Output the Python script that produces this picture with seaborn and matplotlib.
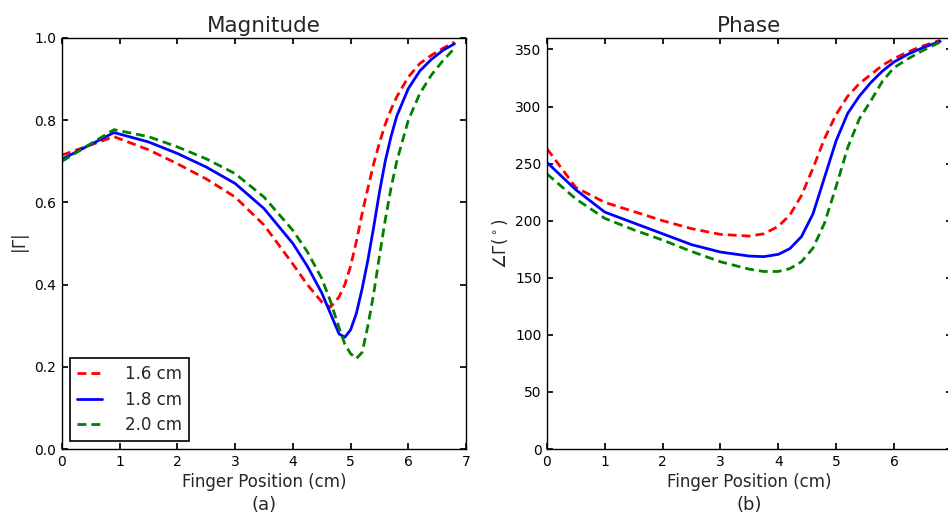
import matplotlib
matplotlib.use('Agg')
import matplotlib.pyplot as plt
import seaborn as sns
import pandas as pd

# magnitude |Gamma| vs finger position (cm)
mag_x = [0, 0.9, 1.5, 2.0, 2.5, 3.0, 3.5, 4.0, 4.25, 4.5, 4.65, 4.8, 4.9, 5.0,
         5.1, 5.2, 5.3, 5.4, 5.5, 5.6, 5.7, 5.8, 6.0, 6.2, 6.4, 6.6, 6.8]
mag_16 = [0.715, 0.76, 0.728, 0.694, 0.657, 0.613, 0.545, 0.45, 0.40, 0.358, 0.345, 0.37, 0.40, 0.445,
          0.505, 0.573, 0.635, 0.694, 0.745, 0.79, 0.826, 0.857, 0.905, 0.938, 0.958, 0.975, 0.99]
mag_18 = [0.705, 0.77, 0.747, 0.719, 0.686, 0.646, 0.585, 0.50, 0.445, 0.38, 0.33, 0.28, 0.272, 0.29,
          0.33, 0.39, 0.46, 0.54, 0.625, 0.70, 0.76, 0.81, 0.877, 0.92, 0.948, 0.97, 0.986]
mag_20 = [0.70, 0.777, 0.760, 0.735, 0.706, 0.67, 0.613, 0.532, 0.48, 0.415, 0.36, 0.295, 0.255, 0.232,
          0.22, 0.235, 0.30, 0.378, 0.47, 0.557, 0.635, 0.70, 0.80, 0.865, 0.91, 0.945, 0.975]

# phase (degrees)
ph_x = [0, 0.5, 1.0, 1.5, 2.0, 2.5, 3.0, 3.5, 3.75, 4.0, 4.2, 4.4, 4.6, 4.8,
        5.0, 5.2, 5.4, 5.6, 5.8, 6.0, 6.25, 6.5, 6.8]
ph_16 = [263, 229, 216, 208, 200, 193, 188, 186.5, 188.5, 195, 205, 222, 246, 272,
         293, 309, 320, 328, 336, 342, 348, 353, 358]
ph_18 = [251, 227, 207.5, 198, 188.5, 179, 172.5, 169, 168.5, 170.5, 175.5, 186, 206, 238,
         270, 294, 309, 321, 331, 339, 346, 351.5, 357]
ph_20 = [241, 219, 202, 192, 183, 173, 164, 157.5, 155.5, 155.5, 158, 164, 176, 198,
         230, 264, 289, 305, 322, 334, 342, 349, 356.5]

labels = ['1.6 cm', '1.8 cm', '2.0 cm']
colors = ['#ff0000', '#0000ff', '#008000']
dash = (0, (3.2, 1.8))
styles = [dash, '-', dash]

sns.set_theme(style="ticks", rc={
    'xtick.direction': 'in', 'ytick.direction': 'in',
    'xtick.top': True, 'ytick.right': True,
    'xtick.major.size': 4, 'ytick.major.size': 4,
    'axes.edgecolor': 'black', 'axes.linewidth': 1.0,
    'xtick.color': 'black', 'ytick.color': 'black',
})
plt.rcParams['font.family'] = ['DejaVu Sans']

fig = plt.figure(figsize=(9.48, 5.17), dpi=100)
ax1 = fig.add_axes([0.0654, 0.1315, 0.4262, 0.795])
# right panel runs slightly past the figure edge, as in the original crop
ax2 = fig.add_axes([0.577, 0.1315, 0.427, 0.795])

for ys, lab, c, ls in zip([mag_16, mag_18, mag_20], labels, colors, styles):
    df = pd.DataFrame({'x': mag_x, 'y': ys})
    sns.lineplot(data=df, x='x', y='y', ax=ax1, color=c, linestyle=ls, lw=2, label=lab)

for ys, lab, c, ls in zip([ph_16, ph_18, ph_20], labels, colors, styles):
    df = pd.DataFrame({'x': ph_x, 'y': ys})
    sns.lineplot(data=df, x='x', y='y', ax=ax2, color=c, linestyle=ls, lw=2, label=lab, legend=False)

ax1.set_xlim(0, 7)
ax1.set_ylim(0, 1.0)
ax1.set_xticks(range(0, 8))
ax1.set_yticks([0.0, 0.2, 0.4, 0.6, 0.8, 1.0])
ax1.set_title('Magnitude', fontsize=15.5, pad=4)
ax1.set_xlabel('Finger Position (cm)', fontsize=12, labelpad=3)
ax1.set_ylabel(r'$|\Gamma|$', fontsize=12, labelpad=2)
ax1.text(0.5, -0.136, '(a)', transform=ax1.transAxes, ha='center', va='center', fontsize=13)
leg = ax1.legend(loc='lower left', fontsize=12, fancybox=False, framealpha=1,
                 edgecolor='black', handlelength=1.5, handletextpad=1.4,
                 labelspacing=0.45, borderaxespad=0.5)
leg.get_frame().set_linewidth(1.2)

ax2.set_xlim(0, 7)
ax2.set_ylim(0, 360)
ax2.set_xticks(range(0, 7))
ax2.set_yticks(range(0, 351, 50))
ax2.set_title('Phase', fontsize=15.5, pad=4)
ax2.set_xlabel('Finger Position (cm)', fontsize=12, labelpad=3)
ax2.set_ylabel(r'$\angle\Gamma(^\circ)$', fontsize=12)
ax2.text(0.5, -0.136, '(b)', transform=ax2.transAxes, ha='center', va='center', fontsize=13)

for ax in (ax1, ax2):
    ax.tick_params(labelsize=10, pad=4)
    for s in ax.spines.values():
        s.set_visible(True)

fig.savefig('out.png', dpi=100)
